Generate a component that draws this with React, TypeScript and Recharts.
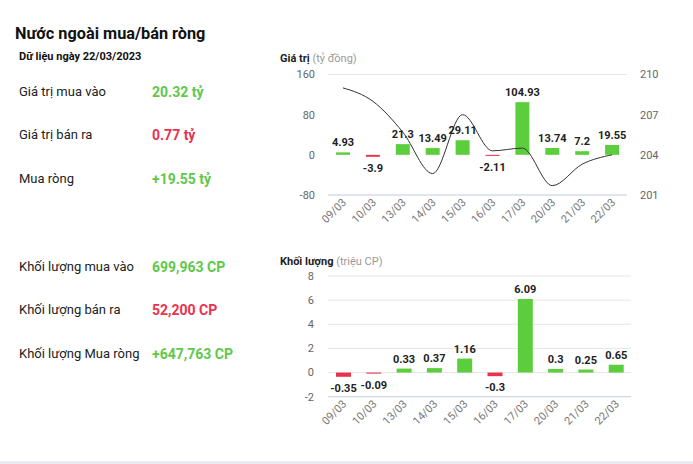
import React from "react";
import {
  ComposedChart,
  BarChart,
  Bar,
  Line,
  XAxis,
  YAxis,
  CartesianGrid,
  Cell,
  LabelList,
  ReferenceLine,
} from "recharts";

const dates = ["09/03", "10/03", "13/03", "14/03", "15/03", "16/03", "17/03", "20/03", "21/03", "22/03"];
const netValue = [4.93, -3.9, 21.3, 13.49, 29.11, -2.11, 104.93, 13.74, 7.2, 19.55];
const price = [209.0, 208.0, 205.7, 202.6, 207.0, 204.3, 204.5, 201.7, 203.3, 204.0];
const netVolume = [-0.35, -0.09, 0.33, 0.37, 1.16, -0.3, 6.09, 0.3, 0.25, 0.65];

const valueTicks = [-80, 0, 80, 160];
const priceTicks = [201, 204, 207, 210];
const volumeTicks = [-2, 0, 2, 4, 6, 8];

const summaryRows = [
  { label: "Giá trị mua vào", value: "20.32 tỷ", color: "#5fc84a", y: 92 },
  { label: "Giá trị bán ra", value: "0.77 tỷ", color: "#e8334f", y: 135 },
  { label: "Mua ròng", value: "+19.55 tỷ", color: "#5fc84a", y: 179 },
  { label: "Khối lượng mua vào", value: "699,963 CP", color: "#5fc84a", y: 267 },
  { label: "Khối lượng bán ra", value: "52,200 CP", color: "#e8334f", y: 310 },
  { label: "Khối lượng Mua ròng", value: "+647,763 CP", color: "#5fc84a", y: 354 },
];

const topData = dates.map((d, i) => ({ date: d, value: netValue[i], price: price[i] }));
const bottomData = dates.map((d, i) => ({ date: d, volume: netVolume[i] }));

const GREEN = "#5ccd3c";
const RED = "#e8334f";
const FONT = "Roboto, 'Liberation Sans', Arial, sans-serif";

const XTick = (props: any) => {
  const { x, y, payload } = props;
  return (
    <g transform={`translate(${x + 4},${y + 8})`}>
      <text x={0} y={0} textAnchor="end" transform="rotate(-45)" fontSize={11} fill="#777" fontFamily={FONT}>
        {payload.value}
      </text>
    </g>
  );
};

const BarLabel = (props: any) => {
  const { x, y, width, height, value } = props;
  const top = Math.min(y, y + height);
  const bottom = Math.max(y, y + height);
  const cx = x + width / 2;
  const ty = value >= 0 ? top - 6 : bottom + 15;
  return (
    <text x={cx} y={ty} textAnchor="middle" fontSize={11} fontWeight="bold" fill="#222" fontFamily={FONT}>
      {value}
    </text>
  );
};

const tickStyle = { fontSize: 11, fill: "#666", fontFamily: FONT };

export default function App() {
  return (
    <div
      style={{
        position: "absolute",
        left: 0,
        top: 0,
        width: 693,
        height: 464,
        background: "#fff",
        fontFamily: FONT,
        overflow: "hidden",
      }}
    >
      <div style={{ position: "absolute", left: 0, top: 461, width: 693, height: 3, background: "#e9ebf0" }} />
      <div style={{ position: "absolute", left: 15, top: 24, fontSize: 16.3, fontWeight: "bold", color: "#111", whiteSpace: "nowrap" }}>
        Nước ngoài mua/bán ròng
      </div>
      <div style={{ position: "absolute", left: 19, top: 50, fontSize: 11, fontWeight: "bold", color: "#111", whiteSpace: "nowrap" }}>
        Dữ liệu ngày 22/03/2023
      </div>
      {summaryRows.map((r) => (
        <React.Fragment key={r.label}>
          <div style={{ position: "absolute", left: 19, top: r.y - 9, fontSize: 13, color: "#222", whiteSpace: "nowrap", lineHeight: "18px" }}>
            {r.label}
          </div>
          <div style={{ position: "absolute", left: 152, top: r.y - 9, fontSize: 14, fontWeight: "bold", color: r.color, whiteSpace: "nowrap", lineHeight: "18px" }}>
            {r.value}
          </div>
        </React.Fragment>
      ))}

      <div style={{ position: "absolute", left: 280, top: 52, fontSize: 11, whiteSpace: "nowrap" }}>
        <span style={{ fontWeight: "bold", color: "#222" }}>Giá trị</span>
        <span style={{ color: "#999" }}> (tỷ đồng)</span>
      </div>
      <div style={{ position: "absolute", left: 270, top: 60 }}>
        <ComposedChart width={420} height={190} data={topData} margin={{ top: 14.5, right: 5, bottom: 0, left: 0 }}>
          <CartesianGrid vertical={false} stroke="#e6e6e6" />
          <XAxis
            dataKey="date"
            tick={<XTick />}
            tickLine={false}
            axisLine={false}
            interval={0}
            height={55}
            tickSize={0}
            tickMargin={0}
          />
          <YAxis
            yAxisId="left"
            domain={[-80, 160]}
            ticks={valueTicks}
            width={58}
            tickLine={false}
            axisLine={false}
            tickSize={0}
            tickMargin={13}
            tick={tickStyle}
            interval={0}
          />
          <YAxis
            yAxisId="right"
            orientation="right"
            domain={[201, 210]}
            ticks={priceTicks}
            width={58}
            tickLine={false}
            axisLine={false}
            tickSize={0}
            tickMargin={13}
            tick={{ ...tickStyle, textAnchor: "start" }}
            interval={0}
          />
          <ReferenceLine yAxisId="left" y={-80} stroke="#ccd6eb" />
          <Bar yAxisId="left" dataKey="value" barSize={14} isAnimationActive={false}>
            {topData.map((d) => (
              <Cell key={d.date} fill={d.value >= 0 ? GREEN : RED} />
            ))}
            <LabelList dataKey="value" content={<BarLabel />} />
          </Bar>
          <Line
            yAxisId="right"
            type="monotone"
            dataKey="price"
            stroke="#333"
            strokeWidth={1}
            dot={false}
            activeDot={false}
            isAnimationActive={false}
          />
        </ComposedChart>
      </div>

      <div style={{ position: "absolute", left: 280, top: 255, fontSize: 11, whiteSpace: "nowrap" }}>
        <span style={{ fontWeight: "bold", color: "#222" }}>Khối lượng</span>
        <span style={{ color: "#999" }}> (triệu CP)</span>
      </div>
      <div style={{ position: "absolute", left: 270, top: 262 }}>
        <BarChart width={420} height={190} data={bottomData} margin={{ top: 14, right: 59, bottom: 0, left: 0 }}>
          <CartesianGrid vertical={false} stroke="#e6e6e6" />
          <XAxis
            dataKey="date"
            tick={<XTick />}
            tickLine={false}
            axisLine={false}
            interval={0}
            height={55.3}
            tickSize={0}
            tickMargin={0}
          />
          <YAxis
            domain={[-2, 8]}
            ticks={volumeTicks}
            width={58}
            tickLine={false}
            axisLine={false}
            tickSize={0}
            tickMargin={14}
            tick={tickStyle}
            interval={0}
          />
          <ReferenceLine y={-2} stroke="#ccd6eb" />
          <Bar dataKey="volume" barSize={15} isAnimationActive={false}>
            {bottomData.map((d) => (
              <Cell key={d.date} fill={d.volume >= 0 ? GREEN : RED} />
            ))}
            <LabelList dataKey="volume" content={<BarLabel />} />
          </Bar>
        </BarChart>
      </div>
    </div>
  );
}
